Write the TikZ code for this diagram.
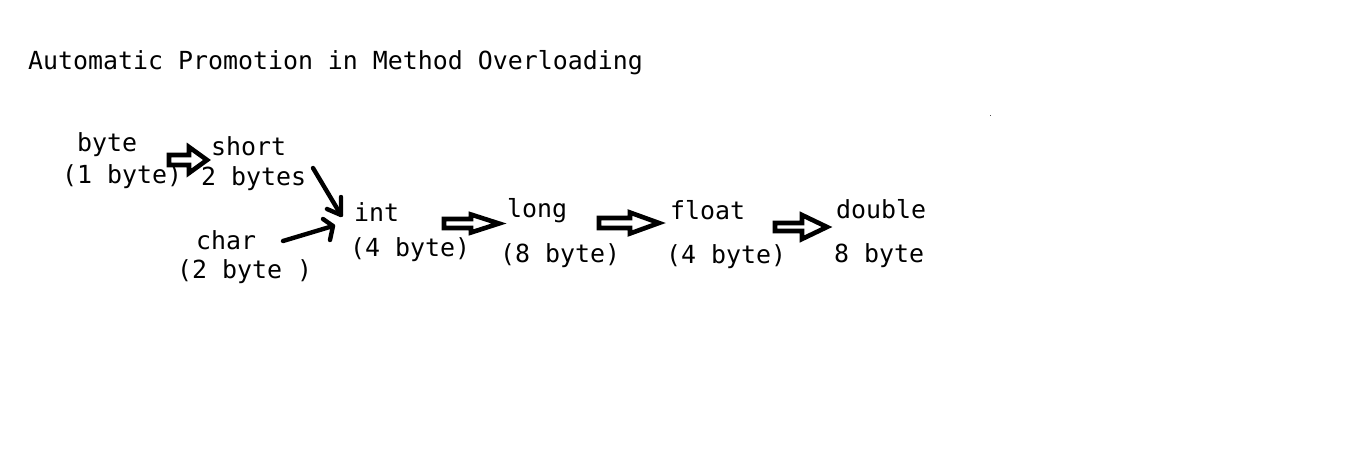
\documentclass[tikz,border=0pt]{standalone}
\usepackage{fontspec}
\setmonofont{DejaVu Sans Mono}
\begin{document}
\begin{tikzpicture}[x=1pt,y=-1pt,
  lbl/.style={anchor=base west,inner sep=0pt,font=\ttfamily\fontsize{24.9}{28}\selectfont},
  barrow/.style={draw=black,line width=4.6pt,line join=miter,fill=white},
  larrow/.style={draw=black,line width=4.4pt,line cap=round,line join=round}]
\useasboundingbox[fill=white] (0,0) rectangle (1360,459);
\newcommand\blockarrow[6]{%
  \draw[barrow] ({#1},{#4-#5}) -- ({#2},{#4-#5}) -- ({#2},{#4-#6}) -- ({#3},{#4})
     -- ({#2},{#4+#6}) -- ({#2},{#4+#5}) -- ({#1},{#4+#5}) -- cycle;}
% texts
\node[lbl] (title) at (28,69) {Automatic Promotion in Method Overloading};
\node[lbl] (byte) at (77,151) {byte};
\node[lbl] (byteb) at (62,183) {(1 byte)};
\node[lbl] (short) at (211,155) {short};
\node[lbl] (shortb) at (201,185) {2 bytes};
\node[lbl] (char) at (196,249) {char};
\node[lbl] (charb) at (177,278) {(2 byte )};
\node[lbl] (int) at (354,221) {int};
\node[lbl] (intb) at (350,256) {(4 byte)};
\node[lbl] (long) at (507,217) {long};
\node[lbl] (longb) at (500,262) {(8 byte)};
\node[lbl] (float) at (670,219) {float};
\node[lbl] (floatb) at (666,263) {(4 byte)};
\node[lbl] (double) at (836,218) {double};
\node[lbl] (doubleb) at (834,262) {8 byte};
% block arrows
\blockarrow{169}{189}{207}{160}{5}{13}
\blockarrow{444}{471}{499}{223.5}{4.5}{9}
\blockarrow{599}{630}{659}{223}{5}{10.5}
\blockarrow{775}{802}{827}{227}{4}{12}
% line arrows
\coordinate (sa) at (313,168);
\coordinate (sb) at (341,215);
\coordinate (ca) at (283,241);
\coordinate (cb) at (333,226);
\draw[larrow] (sa) -- (sb);
\draw[larrow] (327,209) -- (sb) -- (341,197);
\draw[larrow] (ca) -- (cb);
\draw[larrow] (323,219) -- (cb) -- (330,240);
% stray dot
\fill[black!70] (989.5,114.5) rectangle (991,116);
\end{tikzpicture}
\end{document}
